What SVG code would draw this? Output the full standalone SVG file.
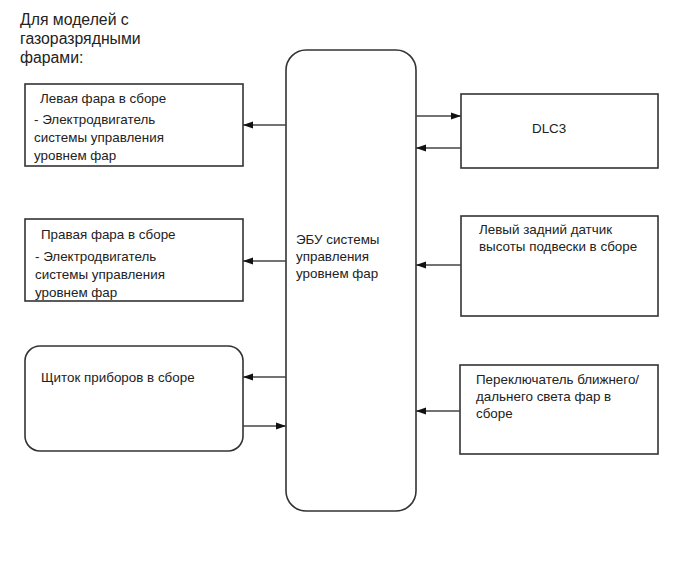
<svg xmlns="http://www.w3.org/2000/svg" width="691" height="562" viewBox="0 0 691 562">
<defs>
<style>
.b{fill:#fff;stroke:#333;stroke-width:1.6}
.c{stroke:#444;stroke-width:1.3;fill:none}
text{font-family:"Liberation Sans",Arial,sans-serif;font-size:13.4px;fill:#222}
.t{font-size:15.8px}
</style>
<marker id="a" markerWidth="10" markerHeight="8" refX="10" refY="4" orient="auto" markerUnits="userSpaceOnUse"><path d="M0,0.5 L10,4 L0,7.5 Z" fill="#111"/></marker>
</defs>
<rect width="691" height="562" fill="#fff"/>
<g id="title"><text class="t" x="20" y="25">Для моделей с</text><text class="t" x="20" y="44">газоразрядными</text><text class="t" x="20" y="63">фарами:</text></g>
<g id="ecu"><rect class="b" x="286" y="50" width="130" height="461" rx="20"/><text x="296" y="244">ЭБУ системы</text><text x="296" y="261">управления</text><text x="296" y="278">уровнем фар</text></g>
<g id="left-headlight"><rect class="b" x="25" y="84" width="218" height="82"/><text x="40" y="103">Левая фара в сборе</text><text x="34" y="124">- Электродвигатель</text><text x="34" y="142">системы управления</text><text x="34" y="160">уровнем фар</text></g>
<g id="right-headlight"><rect class="b" x="25" y="219" width="218" height="82"/><text x="41" y="239">Правая фара в сборе</text><text x="35" y="261">- Электродвигатель</text><text x="35" y="279">системы управления</text><text x="35" y="297">уровнем фар</text></g>
<g id="instrument-panel"><rect class="b" x="25" y="346" width="218" height="105" rx="15"/><text x="41" y="382">Щиток приборов в сборе</text></g>
<g id="dlc3"><rect class="b" x="461" y="94" width="197" height="74"/><text x="532" y="133">DLC3</text></g>
<g id="sensor"><rect class="b" x="461" y="216" width="197" height="100"/><text x="479" y="234">Левый задний датчик</text><text x="479" y="251">высоты подвески в сборе</text></g>
<g id="switch"><rect class="b" x="460" y="365" width="198" height="89"/><text x="476" y="384">Переключатель ближнего/</text><text x="476" y="401">дальнего света фар в</text><text x="476" y="418">сборе</text></g>
<g id="connectors">
<line class="c" x1="286" y1="125" x2="243" y2="125" marker-end="url(#a)"/>
<line class="c" x1="286" y1="261" x2="243" y2="261" marker-end="url(#a)"/>
<line class="c" x1="286" y1="377" x2="243" y2="377" marker-end="url(#a)"/>
<line class="c" x1="243" y1="426" x2="286" y2="426" marker-end="url(#a)"/>
<line class="c" x1="416" y1="116" x2="461" y2="116" marker-end="url(#a)"/>
<line class="c" x1="461" y1="148" x2="416" y2="148" marker-end="url(#a)"/>
<line class="c" x1="461" y1="265" x2="416" y2="265" marker-end="url(#a)"/>
<line class="c" x1="460" y1="411" x2="416" y2="411" marker-end="url(#a)"/>
</g>
</svg>
